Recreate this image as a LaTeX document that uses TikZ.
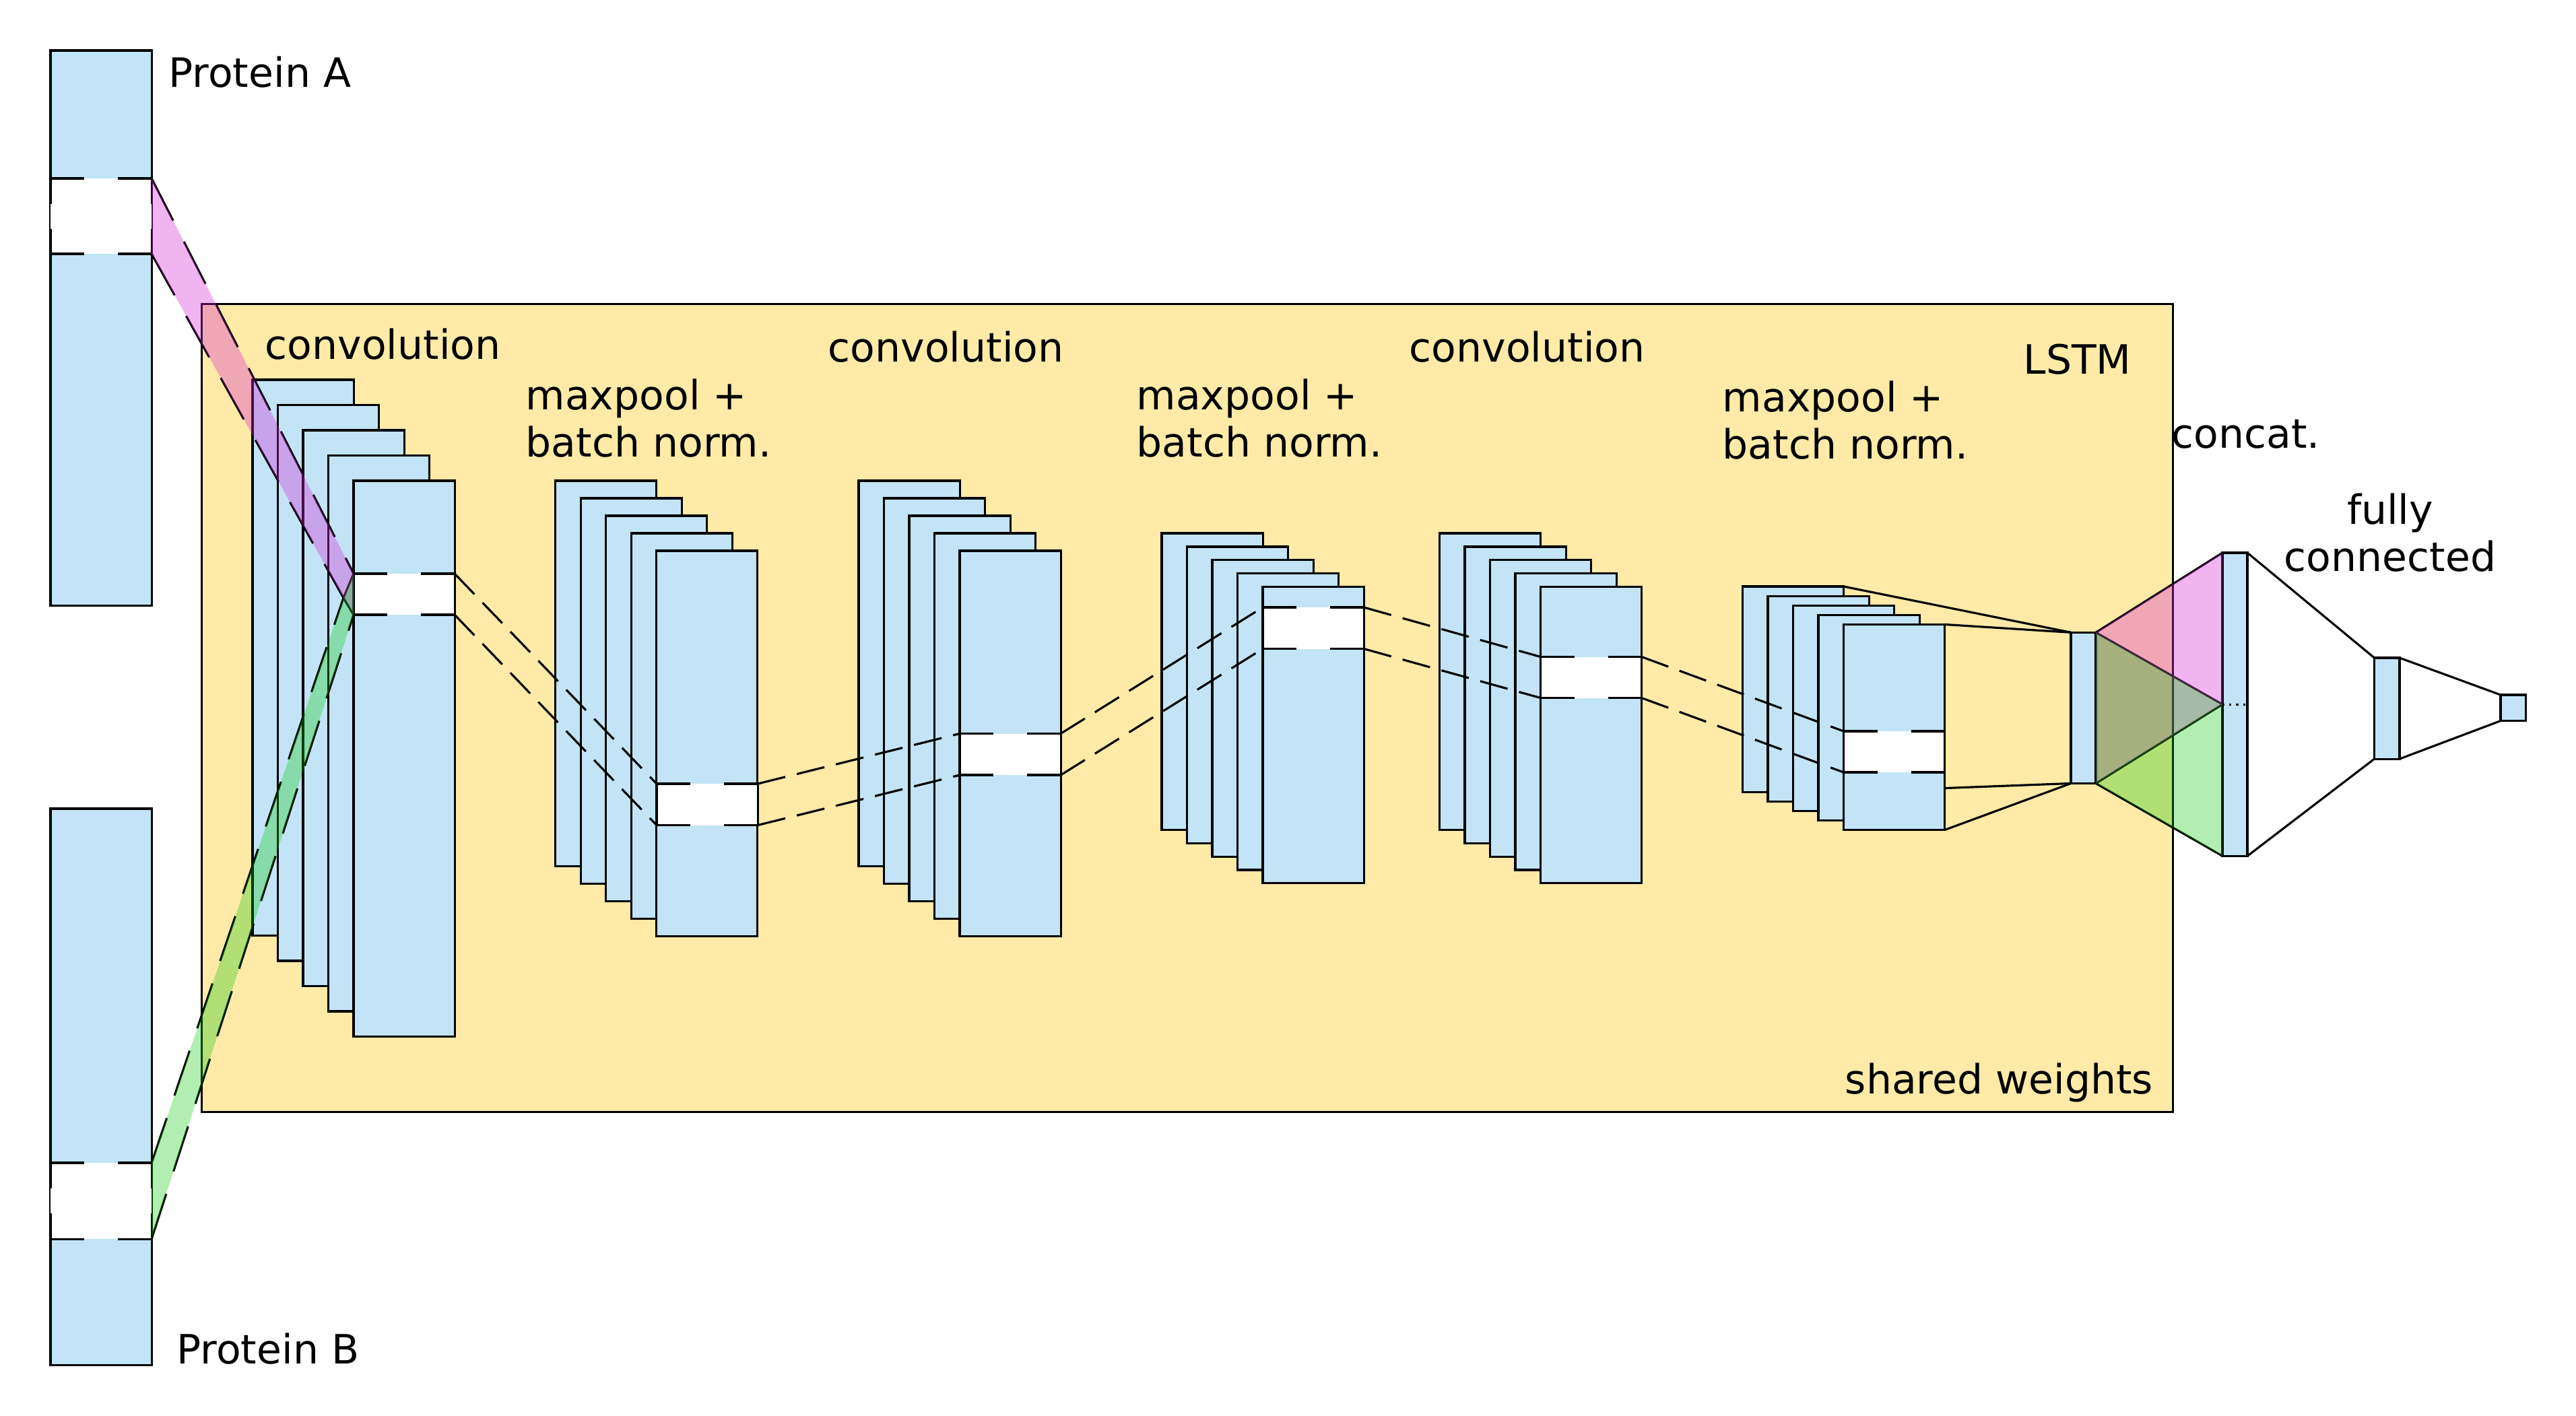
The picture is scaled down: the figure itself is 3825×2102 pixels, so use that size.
\documentclass[tikz,border=0pt]{standalone}
\usepackage{fontspec}
\setmainfont{DejaVu Sans}
\usetikzlibrary{calc}
\definecolor{sharedbg}{HTML}{FFEAA7}
\definecolor{layerblue}{HTML}{C2E4F6}
\definecolor{protA}{HTML}{D42BD4}
\definecolor{protB}{HTML}{00C800}
\tikzset{
  layer/.style={draw, line width=0.9pt, fill=layerblue, anchor=north west,
                inner sep=0pt, outer sep=0pt, minimum width=1.5cm},
  band/.style={fill=white, anchor=north west, inner sep=0pt, outer sep=0pt,
               minimum width=1.5cm},
  bandline/.style={line width=0.9pt, dash pattern=on 0.5cm off 0.5cm},
  sideline/.style={line width=0.9pt, dash pattern=on 0.375cm off 0.375cm},
  link/.style={line width=0.9pt, dash pattern=on 12pt off 5pt},
  plink/.style={line width=0.9pt, dash pattern=on 20pt off 10pt},
  wire/.style={line width=0.9pt},
  lbl/.style={font=\fontsize{17.07pt}{19.9pt}\selectfont, inner sep=0pt,
              anchor=base west, align=left},
  tintA/.style={fill=protA, fill opacity=0.35},
  tintB/.style={fill=protB, fill opacity=0.3}}

\begin{document}
\begin{tikzpicture}[x=0.01cm, y=-0.01cm]
  \useasboundingbox (0,0) rectangle (3825,2102);

  % the two input sequences
  \node[layer, minimum height=8.24cm] (protA) at (75,75) {};
  \node[layer, minimum height=8.26cm] (protB) at (75,1201) {};
  \node[band, minimum height=1.12cm] (bA) at (75,265) {};
  \node[band, minimum height=1.13cm] (bB) at (75,1727) {};
  \foreach \nm in {bA,bB} {
    \draw[bandline] (\nm.north west) -- (\nm.north east) (\nm.south west) -- (\nm.south east);
    \draw[sideline] (\nm.north west) -- (\nm.south west) (\nm.north east) -- (\nm.south east);
  }

  % shared part
  \node[draw, line width=0.9pt, fill=sharedbg, anchor=north west, inner sep=0pt,
        outer sep=0pt, minimum width=29.255cm, minimum height=11.995cm] (shared) at (299.5,451.5) {};

  \foreach \i in {0,...,4}
    \node[layer, minimum height=8.25cm] (conv1-\i) at ({375+37.5*\i},{564+37.5*\i}) {};
  \foreach \i in {0,...,4}
    \node[layer, minimum height=5.72cm] (pool1-\i) at ({824.6+37.5*\i},{714+26*\i}) {};
  \foreach \i in {0,...,4}
    \node[layer, minimum height=5.72cm] (conv2-\i) at ({1275+37.5*\i},{714+26*\i}) {};
  \foreach \i in {0,...,4}
    \node[layer, minimum height=4.4cm] (pool2-\i) at ({1725+37.5*\i},{792+19.9*\i}) {};
  \foreach \i in {0,...,4}
    \node[layer, minimum height=4.4cm] (conv3-\i) at ({2137.5+37.5*\i},{792+19.9*\i}) {};

  % last stack feeds the LSTM
  \node[layer, minimum height=3.05cm] (pool3-0) at (2587.5,871) {};
  \node[layer, minimum width=0.37cm, minimum height=2.24cm] (lstm) at (3075,939.3) {};
  \draw[wire] (pool3-0.north east) -- (lstm.north west) (pool3-0.south east) -- (lstm.south west);
  \foreach \i in {1,...,4}
    \node[layer, minimum height=3.05cm] (pool3-\i) at ({2587.5+37.5*\i},{871+14.1*\i}) {};
  \draw[wire] (pool3-4.north east) -- (lstm.north west) (pool3-4.south east) -- (lstm.south west);

  % receptive windows
  \foreach \nm/\x/\y/\h in {b1/525/852/0.61cm, b2/975/1164/0.615cm, b3/1425/1089.5/0.615cm,
                            b4/1875/902/0.615cm, b5/2287.5/975.5/0.61cm, b6/2737.5/1086/0.61cm} {
    \node[band, minimum height=\h] (\nm) at (\x,\y) {};
    \draw[wire] (\nm.north west) -- (\nm.south west) (\nm.north east) -- (\nm.south east);
    \draw[bandline] (\nm.north west) -- (\nm.north east) (\nm.south west) -- (\nm.south east);
  }
  \draw[link] (b1.north east) -- (b2.north west) (b1.south east) -- (b2.south west);
  \draw[link] (b2.north east) -- (b3.north west) (b2.south east) -- (b3.south west);
  \draw[link] (b3.north east) -- (b4.north west) (b3.south east) -- (b4.south west);
  \draw[link] (b4.north east) -- (b5.north west) (b4.south east) -- (b5.south west);
  \draw[link] (b5.north east) -- (b6.north west) (b5.south east) -- (b6.south west);

  \coordinate (tip) at (510,888);
  \draw[plink] (bA.north east) -- (b1.north west) (bA.south east) -- (tip);
  \draw[plink] (bB.north east) -- (tip) (bB.south east) -- (b1.south west);
  \draw[wire] (b1.north west) -- (tip) -- (b1.south west);

  % merge and dense layers
  \node[layer, minimum width=0.37cm, minimum height=4.5cm] (concat) at (3300,821) {};
  \node[layer, minimum width=0.375cm, minimum height=1.5cm] (fc1) at (3525.5,977) {};
  \node[layer, minimum width=0.37cm, minimum height=0.385cm] (fc2) at (3713,1032) {};
  \draw[wire] (concat.north east) -- (fc1.north west) (concat.south east) -- (fc1.south west)
              (fc1.north east) -- (fc2.north west) (fc1.south east) -- (fc2.south west);
  \draw[wire] (lstm.north east) -- (concat.north west) (lstm.north east) -- (concat.west)
              -- (lstm.south east) -- (concat.south west);
  \draw[dotted, line width=0.9pt] (concat.west) -- (concat.east);

  % colour of each protein
  \fill[tintA] (bA.north east) -- (b1.north west) -- (b1.south west) -- (tip) -- (bA.south east) -- cycle;
  \fill[tintB] (bB.north east) -- (tip) -- (b1.north west) -- (b1.south west) -- (bB.south east) -- cycle;
  \fill[tintA] (lstm.north east) -- (concat.north west) -- (concat.west) -- (lstm.south east) -- cycle;
  \fill[tintB] (lstm.south east) -- (concat.south west) -- (concat.west) -- (lstm.north east) -- cycle;

  % labels
  \node[lbl] (labA) at (250,129) {Protein A};
  \node[lbl] (labB) at (262,2025) {Protein B};
  \node[lbl] (labc1) at (393,533) {convolution};
  \node[lbl] (labp1) at (780,678) {maxpool +\\batch norm.};
  \node[lbl] (labc2) at (1229,537) {convolution};
  \node[lbl] (labp2) at (1687,678) {maxpool +\\batch norm.};
  \node[lbl] (labc3) at (2092,537) {convolution};
  \node[lbl] (labp3) at (2557,681) {maxpool +\\batch norm.};
  \node[lbl] (lablstm) at (3004,555) {LSTM};
  \node[lbl] (labcat) at (3224,665) {concat.};
  \node[lbl, align=center, anchor=base] (labfc) at (3549,848) {fully\\connected};
  \node[lbl] (labsw) at (2739,1624) {shared weights};
\end{tikzpicture}
\end{document}
